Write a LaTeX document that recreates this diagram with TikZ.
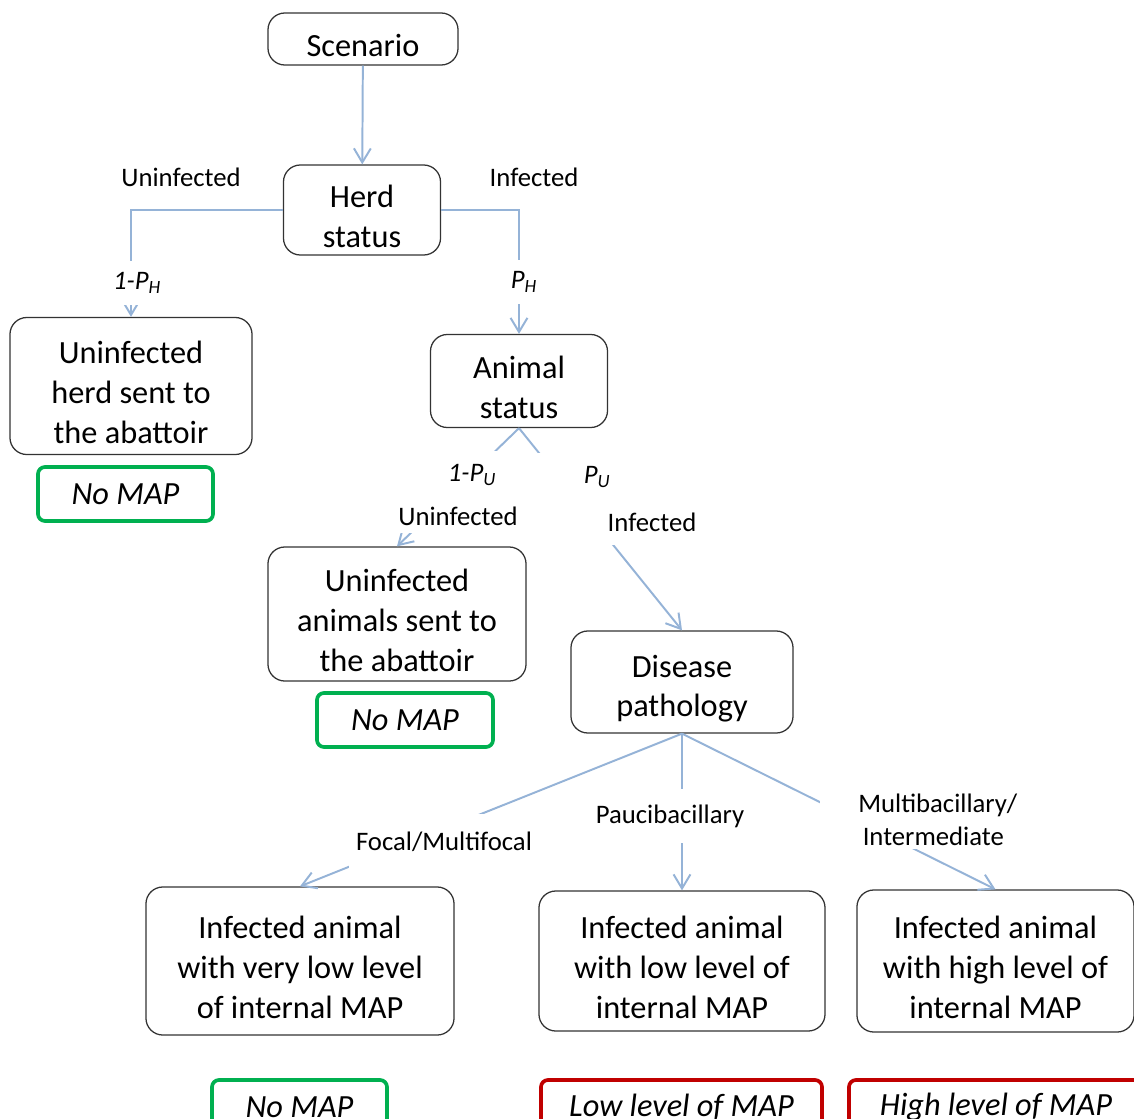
\documentclass[tikz,border=0pt]{standalone}
\usepackage{fontspec}
\setmainfont{Carlito}
\usepackage{xcolor}
\definecolor{LinkBlue}{HTML}{95B3D7}
\definecolor{NoMapGreen}{HTML}{00B050}
\definecolor{MapRed}{HTML}{C00000}
\usetikzlibrary{arrows.meta}
\newcommand\boxlift{\rule{0pt}{1.1em}}

\begin{document}
\begin{tikzpicture}[x=0.025cm, y=-0.025cm,
    font=\fontsize{23}{28.3}\selectfont,
    box/.style={shape=rectangle,
      rounded corners=12pt,
      draw=black!80,
      line width=0.9pt,
      align=center,
      inner sep=0pt},
    result/.style={shape=rectangle,
      rounded corners=5pt,
      line width=2.6pt,
      align=center,
      inner sep=0pt,
      minimum height=1.35cm},
    link/.style={draw=LinkBlue,
      line width=1.4pt,
      -{Straight Barb[length=10pt,width=12pt,line width=1.4pt]}},
    lbl/.style={fill=white,
      inner sep=0pt,
      font=\fontsize{19}{23.4}\selectfont}]

    \path [use as bounding box] (0,0) rectangle (1134,1119);

    % decision nodes
    \node[name=scenario, box,
      minimum width=4.75cm, minimum height=1.3cm] at (363,39) {\boxlift Scenario};

    \node[name=herd, box,
      minimum width=3.925cm, minimum height=2.25cm] at (362,210)
      {\boxlift Herd\\status};

    \node[name=uherd, box,
      minimum width=6.05cm, minimum height=3.425cm] at (131,386)
      {\boxlift Uninfected\\herd sent to\\the abattoir};

    \node[name=animal, box,
      minimum width=4.425cm, minimum height=2.325cm] at (519,381)
      {\boxlift Animal\\status};

    \node[name=uanimal, box,
      minimum width=6.45cm, minimum height=3.35cm] at (397,614)
      {\boxlift Uninfected\\animals sent to\\the abattoir};

    \node[name=disease, box,
      minimum width=5.55cm, minimum height=2.55cm] at (682,682)
      {\boxlift Disease\\pathology};

    \node[name=verylow, box,
      minimum width=7.7cm, minimum height=3.7cm] at (300,961)
      {\boxlift Infected animal\\with very low level\\of internal MAP};

    \node[name=low, box,
      minimum width=7.15cm, minimum height=3.5cm] at (682,961)
      {\boxlift Infected animal\\with low level of\\internal MAP};

    \node[name=high, box,
      minimum width=6.925cm, minimum height=3.55cm] at (995.5,961)
      {\boxlift Infected animal\\with high level of\\internal MAP};

    % outcomes
    \node[name=nomapa, result, draw=NoMapGreen,
      minimum width=4.375cm] at (125.5,494) {\textit{No MAP}};
    \node[name=nomapb, result, draw=NoMapGreen,
      minimum width=4.4cm] at (405,720) {\textit{No MAP}};
    \node[name=nomapc, result, draw=NoMapGreen,
      minimum width=4.375cm] at (299.5,1107) {\textit{No MAP}};
    \node[name=lowmap, result, draw=MapRed,
      minimum width=7.025cm] at (681.5,1107) {\textit{Low level of MAP}};
    \node[name=highmap, result, draw=MapRed,
      minimum width=7.35cm] at (996,1107) {\textit{High level of MAP}};

    % connectors
    \path (scenario) edge[link] (herd);
    \draw[link] (herd.west) -| (uherd.north);
    \draw[link] (herd.east) -| (animal.north);
    \path (animal.south) edge[link] (uanimal.north);
    \path (animal.south) edge[link] (disease.north);
    \path (disease.south) edge[link] (verylow.north);
    \path (disease.south) edge[link] (low.north);
    \path (disease.south) edge[link] (high.north);

    % branch labels
    \node[name=herdno, lbl, fill=none] at (181,177) {Uninfected};
    \node[name=herdyes, lbl, fill=none] at (534,177) {Infected};
    \node[name=probno, lbl,
      minimum width=1.75cm, minimum height=1.1cm] at (137,283)
      {\textit{1-P\textsubscript{H}}};
    \node[name=probyes, lbl,
      minimum width=1.2cm, minimum height=1.1cm] at (524,282)
      {\textit{P\textsubscript{H}}};
    \node[name=animprobno, lbl,
      minimum width=2cm, minimum height=1.2cm] at (472,475)
      {\textit{1-P\textsubscript{U}}};
    \node[name=animno, lbl,
      minimum height=0.85cm] at (458,516) {Uninfected};
    \node[name=animprobyes, lbl,
      minimum width=3.125cm, minimum height=1.175cm] at (597,477)
      {\textit{P\textsubscript{U}}};
    \node[name=animyes, lbl,
      minimum width=4.125cm, minimum height=1.125cm] at (652,522) {Infected};
    \node[name=focal, lbl,
      minimum width=4.75cm, minimum height=1.4cm] at (444,842) {Focal/Multifocal};
    \node[name=pauci, lbl,
      minimum width=4cm, minimum height=1.35cm] at (670,816) {Paucibacillary};
    \node[name=multi, lbl, anchor=west,
      text width=4.25cm, align=left, inner xsep=0.95cm,
      minimum height=1.45cm] at (820,820) {Multibacillary/\\\,Intermediate};
\end{tikzpicture}
\end{document}
